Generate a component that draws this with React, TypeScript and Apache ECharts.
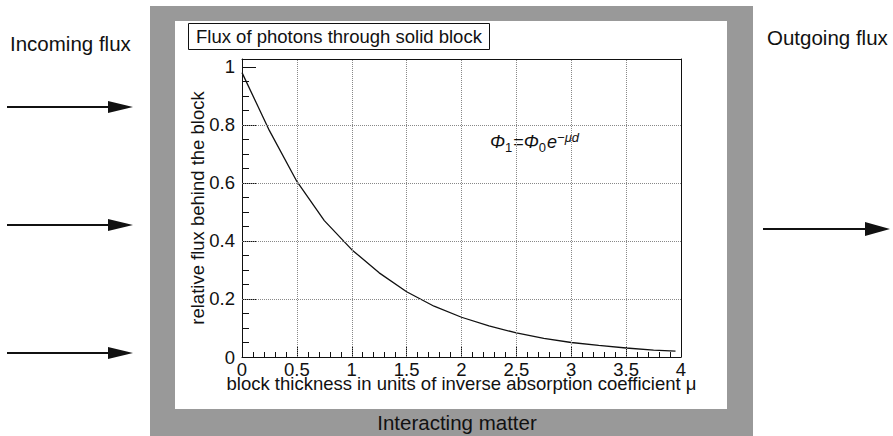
import React, { useEffect, useRef } from "react";
import * as echarts from "echarts";

// Data
const THICKNESS = [0, 0.25, 0.5, 0.75, 1, 1.25, 1.5, 1.75, 2, 2.25, 2.5, 2.75, 3, 3.25, 3.5, 3.75, 3.95];
const FLUX = [0.98, 0.78, 0.605, 0.47, 0.37, 0.29, 0.225, 0.175, 0.137, 0.107, 0.083, 0.064, 0.05, 0.04, 0.031, 0.024, 0.02];
const Y_MAJOR = [0, 0.2, 0.4, 0.6, 0.8, 1];
const Y_MINOR = [0.05, 0.1, 0.15, 0.25, 0.3, 0.35, 0.45, 0.5, 0.55, 0.65, 0.7, 0.75, 0.85, 0.9, 0.95];
const X_GRID = [0.5, 1, 1.5, 2, 2.5, 3, 3.5];
const Y_GRID = [0.2, 0.4, 0.6, 0.8];
const X_MAX = 4;
const Y_MAX = 1.027;

const TITLE = "Flux of photons through solid block";
const X_NAME = "block thickness in units of inverse absorption coefficient \u03bc";
const Y_NAME = "relative flux behind the block";
const LEFT_LABEL = "Incoming flux";
const RIGHT_LABEL = "Outgoing flux";
const BOTTOM_LABEL = "Interacting matter";

const FONT = "'Liberation Sans', Arial, Helvetica, sans-serif";
const INK = "#111";
const GRAY = "#999999";

function arrow(x1: number, x2: number, y: number, head: number, half: number) {
  return [
    { type: "line", z: 5, shape: { x1, y1: y, x2: x2 - head + 2, y2: y }, style: { stroke: INK, lineWidth: 2 } },
    {
      type: "polygon",
      z: 5,
      shape: { points: [[x2 - head, y - half], [x2, y], [x2 - head, y + half]] },
      style: { fill: INK },
    },
  ];
}

const frameAxis = (extra: any) => ({
  type: "value",
  axisLine: { show: true, onZero: false, lineStyle: { color: INK, width: 1 } },
  axisTick: { show: false },
  minorTick: { show: false },
  axisLabel: { show: false },
  splitLine: { show: false },
  ...extra,
});

export default function App() {
  const ref = useRef<HTMLDivElement>(null);
  useEffect(() => {
    if (!ref.current) return;
    const chart = echarts.init(ref.current, undefined, { renderer: "svg" });
    const option: any = {
      animation: false,
      backgroundColor: "transparent",
      textStyle: { fontFamily: FONT },
      title: {
        text: TITLE,
        left: 188,
        top: 23,
        padding: [4, 8, 4, 8],
        borderColor: INK,
        borderWidth: 1,
        backgroundColor: "#fff",
        textStyle: { fontSize: 18.5, fontWeight: "normal", color: INK, fontFamily: FONT },
      },
      grid: { left: 242, top: 59, width: 439, height: 298, show: false },
      xAxis: [
        {
          type: "value",
          position: "bottom",
          min: 0,
          max: X_MAX,
          interval: 0.5,
          name: X_NAME,
          nameLocation: "middle",
          nameGap: 20,
          nameMoveOverlap: false,
          nameTextStyle: { fontSize: 18.5, lineHeight: 13, color: INK, fontFamily: FONT },
          axisLine: { show: true, onZero: false, lineStyle: { color: INK, width: 1 } },
          axisTick: { show: true, inside: true, length: 10, lineStyle: { color: INK, width: 1 } },
          minorTick: { show: true, splitNumber: 5, length: 5, lineStyle: { color: INK, width: 1 } },
          axisLabel: { fontSize: 18.5, lineHeight: 13, color: INK, margin: 6, fontFamily: FONT },
          splitLine: { show: false },
        },
        frameAxis({ position: "top", min: 0, max: X_MAX }),
      ],
      yAxis: [
        {
          type: "value",
          min: 0,
          max: Y_MAX,
          position: "left",
          name: Y_NAME,
          nameLocation: "middle",
          nameGap: 35,
          nameMoveOverlap: false,
          nameTextStyle: { fontSize: 18.5, color: INK, fontFamily: FONT },
          axisLine: { show: true, onZero: false, lineStyle: { color: INK, width: 1 } },
          axisTick: { show: true, inside: true, length: 14, customValues: Y_MAJOR, lineStyle: { color: INK, width: 1 } },
          axisLabel: { fontSize: 18.5, color: INK, margin: 7, customValues: Y_MAJOR, fontFamily: FONT },
          splitLine: { show: false },
        },
        {
          type: "value",
          min: 0,
          max: Y_MAX,
          position: "left",
          axisLine: { show: false },
          axisTick: { show: true, inside: true, length: 7, customValues: Y_MINOR, lineStyle: { color: INK, width: 1 } },
          axisLabel: { show: false },
          splitLine: { show: false },
        },
        frameAxis({ position: "right", min: 0, max: Y_MAX }),
      ],
      series: [
        {
          type: "line",
          xAxisIndex: 0,
          yAxisIndex: 0,
          data: THICKNESS.map((x, i) => [x, FLUX[i]]),
          showSymbol: false,
          symbol: "none",
          lineStyle: { color: INK, width: 1.3 },
          z: 3,
          markLine: {
            silent: true,
            symbol: ["none", "none"],
            label: { show: false },
            lineStyle: { color: "#888", type: [1, 1], width: 1 },
            data: [...X_GRID.map((v) => ({ xAxis: v })), ...Y_GRID.map((v) => ({ yAxis: v }))],
          },
        },
      ],
      graphic: [
        {
          type: "text",
          z: 5,
          x: 10,
          y: 43,
          style: { text: LEFT_LABEL, fontSize: 20.5, fill: INK, fontFamily: FONT, verticalAlign: "middle" },
        },
        {
          type: "text",
          z: 5,
          x: 767,
          y: 37,
          style: { text: RIGHT_LABEL, fontSize: 20.5, fill: INK, fontFamily: FONT, verticalAlign: "middle" },
        },
        {
          type: "text",
          z: 5,
          x: 457,
          y: 422,
          style: { text: BOTTOM_LABEL, fontSize: 20.5, fill: INK, fontFamily: FONT, align: "center", verticalAlign: "middle" },
        },
        {
          type: "text",
          z: 5,
          x: 490,
          y: 142,
          style: {
            text: "{i|\u03a6}{sub|1}{n|=}{i|\u03a6}{sub|0}{i|e}{sup|\u2212\u03bcd}",
            verticalAlign: "middle",
            fontFamily: FONT,
            rich: {
              i: { fontSize: 18, fontStyle: "italic", fill: INK, lineHeight: 18, fontFamily: FONT },
              n: { fontSize: 18, fill: INK, lineHeight: 18, fontFamily: FONT },
              sub: { fontSize: 13, fill: INK, lineHeight: 12, padding: [10, 1, 0, 0], fontFamily: FONT },
              sup: { fontSize: 13, fontStyle: "italic", fill: INK, lineHeight: 12, padding: [0, 0, 10, 0], fontFamily: FONT },
            },
          },
        },
        ...arrow(7, 133, 107, 25, 6),
        ...arrow(7, 133, 225, 25, 6),
        ...arrow(7, 133, 353, 25, 6),
        ...arrow(763, 890, 229, 25, 7),
      ],
    };
    chart.setOption(option);
    return () => chart.dispose();
  }, []);
  return (
    <div style={{ position: "fixed", left: 0, top: 0, width: 893, height: 436, background: "#fff" }}>
      <div style={{ position: "absolute", left: 150, top: 6, width: 603, height: 430, background: GRAY }} />
      <div style={{ position: "absolute", left: 175, top: 21, width: 552, height: 388, background: "#fff" }} />
      <div ref={ref} style={{ position: "absolute", left: 0, top: 0, width: 893, height: 436 }} />
    </div>
  );
}
